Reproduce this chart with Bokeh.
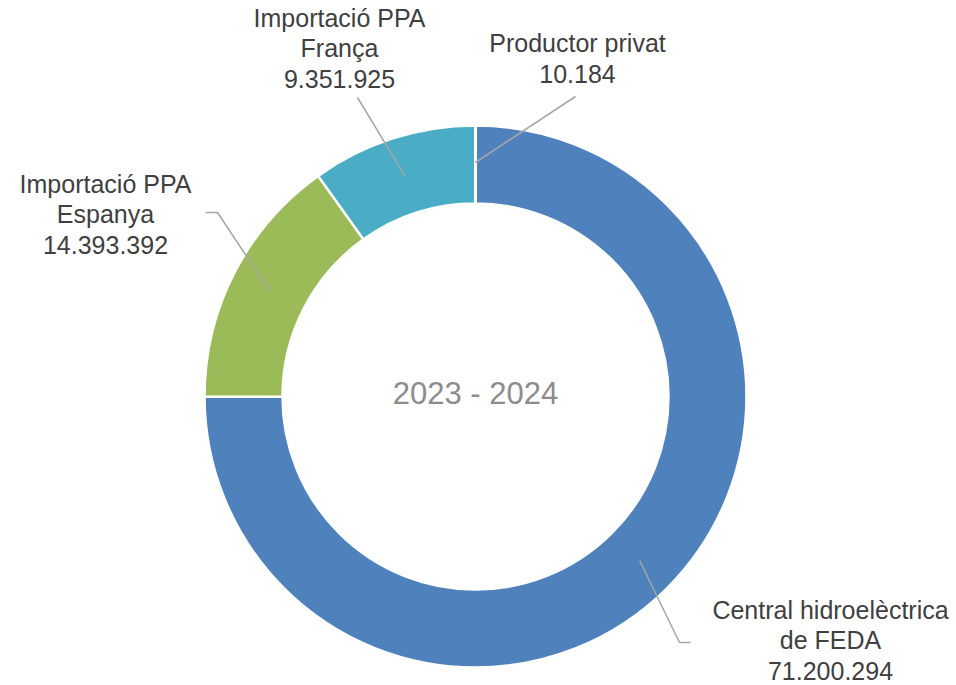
import math
from bokeh.plotting import figure
from bokeh.models import Range1d
from bokeh.core.properties import value
from bokeh.embed import file_html
from bokeh.resources import INLINE

# ---- data ----
categories = ["Central hidroelèctrica\nde FEDA", "Importació PPA\nEspanya",
              "Importació PPA\nFrança", "Productor privat"]
values = [71200294, 14393392, 9351925, 10184]
value_labels = ["71.200.294", "14.393.392", "9.351.925", "10.184"]
colors = ["#4F81BD", "#9BBB59", "#4BACC6", "#4F81BD"]
center_title = "2023 - 2024"

# ---- layout (page pixel coordinates, y down) ----
W, H = 956, 685
def Y(y):  # page y -> data y
    return H - y

cx, cy = 475, Y(396)
r_in, r_out = 193, 271
r_lead = 232
# text block centres and leader elbow points (page coords)
label_pos = [(830, 640), (105, 214), (339, 48), (577, 58)]
elbows = [[(679, 642), (690, 642)], [(217, 212), (205, 212)], [(357, 97)], [(575, 96)]]

p = figure(width=W, height=H, output_backend="svg", toolbar_location=None,
           x_range=Range1d(0, W), y_range=Range1d(0, H),
           min_border=0)
p.axis.visible = False
p.grid.visible = False
p.outline_line_color = None
p.background_fill_color = "white"

total = float(sum(values))
start = math.pi / 2
starts, ends, mids = [], [], []
for v in values:
    sweep = 2 * math.pi * v / total
    end = start - sweep
    starts.append(start)
    ends.append(end)
    mids.append((start + end) / 2)
    start = end

p.annular_wedge(x=cx, y=cy, inner_radius=r_in, outer_radius=r_out,
                start_angle=ends, end_angle=starts,
                fill_color=colors, line_color="white", line_width=2.5)

# leader lines
for i, m in enumerate(mids):
    rr = r_lead if i < 3 else 234
    xs = [cx + rr * math.cos(m)] + [e[0] for e in elbows[i]]
    ys = [cy + rr * math.sin(m)] + [Y(e[1]) for e in elbows[i]]
    p.line(xs, ys, line_color="#A6A6A6", line_width=1.5)

# labels
texts = [c + "\n" + v for c, v in zip(categories, value_labels)]
p.text(x=[lp[0] for lp in label_pos], y=[Y(lp[1]) for lp in label_pos], text=texts,
       text_align="center", text_baseline="middle", text_font=value("Liberation Sans"),
       text_font_size="25px", text_color="#404040", text_line_height=1.1)

p.text(x=[cx], y=[cy + 3], text=[center_title], text_align="center",
       text_baseline="middle", text_font=value("Liberation Sans"),
       text_font_size="31px", text_color="#8C8C8C")

open("out.html", "w").write(file_html(p, INLINE))
